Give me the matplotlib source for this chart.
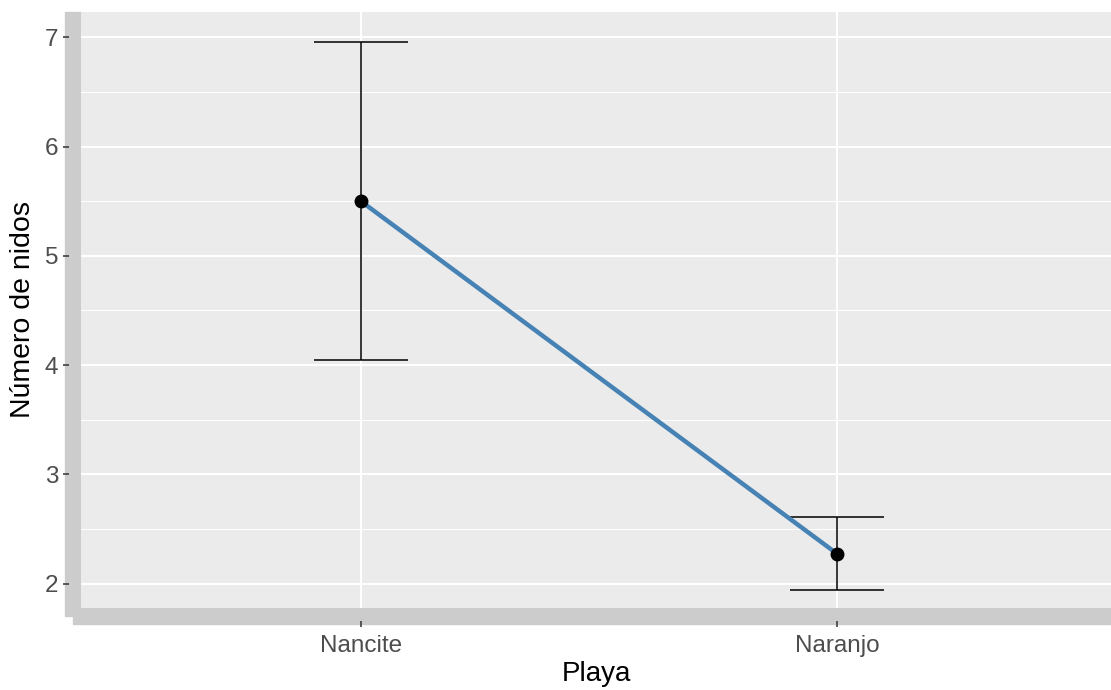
import matplotlib.pyplot as plt
from matplotlib.patches import Rectangle
from matplotlib.ticker import MultipleLocator

plt.rcParams['font.family'] = ['Liberation Sans', 'DejaVu Sans']

# Data
playas = ["Nancite", "Naranjo"]
medias = [5.50, 2.276]
sup = [6.96, 2.61]
inf = [4.05, 1.947]

W, H = 1111, 690
fig = plt.figure(figsize=(W / 100, H / 100), dpi=100)

# panel position in pixels
px0, px1, py0, py1 = 81, 1111, 12, 608
ax = fig.add_axes([px0 / W, 1 - py1 / H, (px1 - px0) / W, (py1 - py0) / H])
ax.set_facecolor('#EBEBEB')
ax.set_zorder(1)

x = list(range(len(playas)))
yerr_low = [m - l for m, l in zip(medias, inf)]
yerr_up = [u - m for m, u in zip(medias, sup)]

ax.errorbar(x, medias, yerr=[yerr_low, yerr_up], fmt='none', ecolor='black',
            elinewidth=1.1, capsize=34, capthick=1.1, zorder=3)
ax.plot(x, medias, color='#4682B4', lw=3.2, zorder=4, solid_capstyle='butt')
ax.plot(x, medias, 'o', color='black', ms=9, zorder=5)

ax.set_xlim(-0.588, 1.576)
ax.set_ylim(1.778, 7.231)
ax.set_xticks(x)
ax.set_xticklabels(playas)
ax.yaxis.set_major_locator(MultipleLocator(1))
ax.yaxis.set_minor_locator(MultipleLocator(0.5))

ax.grid(which='major', color='white', lw=1.5)
ax.grid(which='minor', axis='y', color='white', lw=0.75)
ax.set_axisbelow(True)

for s in ax.spines.values():
    s.set_visible(False)
ax.spines['left'].set_position(('outward', 9))
ax.spines['bottom'].set_position(('outward', 9))

ax.tick_params(which='major', length=4.5, width=1.1, color='#333333',
               labelsize=17.5, labelcolor='#4D4D4D', pad=3)
ax.tick_params(which='minor', length=0)
ax.tick_params(axis='x', pad=6)

ax.set_xlabel("Playa", fontsize=20, color='black', labelpad=3)
ax.set_ylabel("Número de nidos", fontsize=20.5, color='black', labelpad=6)

# thick gray axis lines (ggplot axis.line)
fig.patches.append(Rectangle((65 / W, 1 - 616 / H), 16 / W, (616 - 12) / H,
                             transform=fig.transFigure, color='#CCCCCC', zorder=0))
fig.patches.append(Rectangle((73 / W, 1 - 624 / H), (W - 73) / W, 16 / H,
                             transform=fig.transFigure, color='#CCCCCC', zorder=0))

fig.savefig("out.png", dpi=100)
